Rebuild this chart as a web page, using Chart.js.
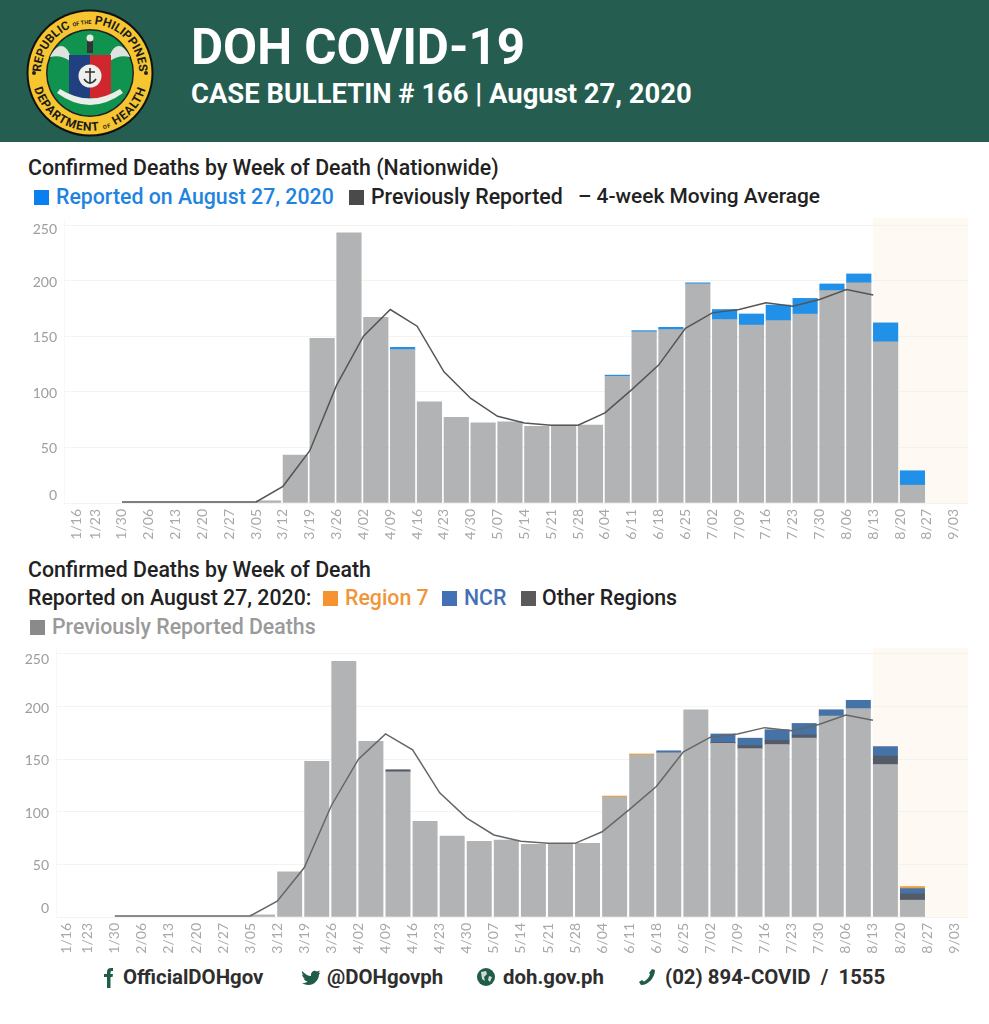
<!DOCTYPE html>
<html><head><meta charset="utf-8">
<script src="https://cdn.jsdelivr.net/npm/chart.js@4"></script>
<style>
html,body{margin:0;padding:0;background:#fff;width:989px;height:1024px;overflow:hidden;font-family:Roboto,sans-serif}
#hdr{position:absolute;left:0;top:0;width:989px;height:142px;background:#255d50}
.t{position:absolute;white-space:nowrap;line-height:1;font-family:Roboto,sans-serif}
.s{position:absolute;width:15px;height:15px}
canvas{position:absolute}
.lg{font-size:21.3px;font-weight:500;color:#222}
.ft{font-size:20.4px;font-weight:700;color:#2e2e2e;top:967px}
</style></head><body>
<div id="hdr"></div>
<svg style="position:absolute;left:20px;top:5px" width="140" height="135" viewBox="0 0 140 135">
<defs>
<path id="arcTop" d="M 23.96 84.76 A 49 49 0 1 1 116.04 84.76"/>
<path id="arcBot" d="M 13.3 80 A 58 58 0 0 0 126.7 80"/>
</defs>
<circle cx="70" cy="68" r="63.5" fill="#111"/>
<circle cx="70" cy="68" r="61.5" fill="#f6c530"/>
<circle cx="70" cy="68" r="44" fill="#222"/>
<circle cx="70" cy="68" r="42.5" fill="#10934f"/>
<text font-family="Roboto" font-weight="700" font-size="12" fill="#1a1a1a"><textPath href="#arcTop" startOffset="50%" text-anchor="middle">REPUBLIC <tspan font-size="5.5">OF THE</tspan> PHILIPPINES</textPath></text>
<text font-family="Roboto" font-weight="700" font-size="12" fill="#1a1a1a" letter-spacing="0.8"><textPath href="#arcBot" startOffset="50%" text-anchor="middle">DEPARTMENT <tspan font-size="5.5">OF</tspan> HEALTH</textPath></text>
<circle cx="14" cy="68" r="2" fill="#222"/><circle cx="126" cy="68" r="2" fill="#222"/>
<path d="M50 50 C44 36 36 40 30 52 C38 50 44 52 50 56 Z" fill="#dfe3df"/>
<path d="M90 50 C96 36 104 40 110 52 C102 50 96 52 90 56 Z" fill="#dfe3df"/>
<rect x="67" y="33" width="6" height="15" fill="#333"/><circle cx="70" cy="33" r="3.5" fill="#e8e8e0"/>
<path d="M49 50 H70 V93 H55 Q49 93 49 87 Z" fill="#20407f"/>
<path d="M91 50 H70 V93 H85 Q91 93 91 87 Z" fill="#d0272f"/>
<circle cx="70" cy="71" r="11.5" fill="#eef0ec"/>
<path d="M70 63 V79 M65 67 H75 M64 74 Q70 82 76 74" stroke="#333" stroke-width="1.6" fill="none"/>
<path d="M37 88 Q70 112 103 88 L100 84 Q70 103 40 84 Z" fill="#e9efe8"/>
</svg>
<div class="t" style="left:191px;top:23px;font-size:49.4px;font-weight:700;color:#fff">DOH COVID-19</div>
<div class="t" style="left:191px;top:81px;font-size:27.4px;font-weight:700;color:#fff">CASE BULLETIN # 166 | August 27, 2020</div>

<div class="t lg" style="left:28px;top:157px">Confirmed Deaths by Week of Death (Nationwide)</div>
<div class="s" style="left:34px;top:190px;background:#0a7ff0"></div>
<div class="t lg" style="left:56px;top:186px;color:#1f84e0">Reported on August 27, 2020</div>
<div class="s" style="left:349px;top:190px;background:#4a4a4a"></div>
<div class="t lg" style="left:371px;top:186px">Previously Reported</div>
<div class="t lg" style="left:578px;top:186px;font-size:20.9px">– 4-week Moving Average</div>

<div class="t lg" style="left:28px;top:559px">Confirmed Deaths by Week of Death</div>
<div class="t lg" style="left:28px;top:587px">Reported on August 27, 2020:</div>
<div class="s" style="left:323px;top:591px;background:#f59331"></div>
<div class="t lg" style="left:345px;top:587px;color:#f0963a">Region 7</div>
<div class="s" style="left:442px;top:591px;background:#4470b6"></div>
<div class="t lg" style="left:464px;top:587px;color:#4470b6">NCR</div>
<div class="s" style="left:521px;top:591px;background:#5a5a5a"></div>
<div class="t lg" style="left:542px;top:587px">Other Regions</div>
<div class="s" style="left:30px;top:620px;background:#8a8a8a"></div>
<div class="t lg" style="left:52px;top:616px;color:#9a9a9a">Previously Reported Deaths</div>

<canvas id="c1" style="left:0;top:210px" width="989" height="340"></canvas>
<canvas id="c2" style="left:0;top:640px" width="989" height="320"></canvas>

<svg style="position:absolute;left:100px;top:966px" width="18" height="24" viewBox="0 0 18 24"><path d="M7 22 V11 H4 V8 H7 V6 Q7 2 11 2 H13 V5 H11.5 Q10.5 5 10.5 6.5 V8 H13 L12.5 11 H10.5 V22 Z" fill="#1f5c4a"/></svg>
<div class="t ft" style="left:123px">OfficialDOHgov</div>
<svg style="position:absolute;left:301px;top:968px" width="20" height="18" viewBox="0 0 20 18"><path d="M1 3 C4 6 7 8 10 8 C9.5 4 13 1.5 16 3.5 L19 2.5 L17.5 5 L19.5 4.5 L18 6.5 C18 12 13 17 7.5 17 C5 17 3 16.3 1 15 C3 15.2 5 14.6 6.5 13.5 C4.5 13.3 3.2 12.2 2.6 10.6 L4.4 10.5 C2.4 9.9 1.2 8.2 1.2 6.2 L3 6.8 C1.2 5.6 0.6 5 1 3 Z" fill="#1f5c4a"/></svg>
<div class="t ft" style="left:327px">@DOHgovph</div>
<svg style="position:absolute;left:477px;top:968px" width="18" height="18" viewBox="0 0 18 18"><circle cx="9" cy="9" r="9" fill="#1f5c4a"/><path d="M4 4 L9 3 L10 6 L7 9 L8 13 L5 11 Z M12 8 L15 9 L13 14 L11 12 Z" fill="#cfdcd6"/></svg>
<div class="t ft" style="left:503px">doh.gov.ph</div>
<svg style="position:absolute;left:638px;top:968px" width="18" height="18" viewBox="0 0 18 18"><path d="M14 1 L17 2 C17 9 11 17 3 17 L1 14 L4 12 L6 13.5 C9 12 11.5 9 12 6 L11 5 Z" fill="#1f5c4a"/></svg>
<div class="t ft" style="left:665px;white-space:pre">(02) 894-COVID  /  1555</div>

<script>
const weekLabels = ['1/16','1/23','1/30','2/06','2/13','2/20','2/27','3/05','3/12','3/19','3/26','4/02','4/09','4/16','4/23','4/30','5/07','5/14','5/21','5/28','6/04','6/11','6/18','6/25','7/02','7/09','7/16','7/23','7/30','8/06','8/13','8/20','8/27','9/03'];
const previouslyReported = [null,null,null,null,null,null,null,2,43,148,243,167,138,91,77,72,73,69,70,70,114,154,156,197,165,160,164,170,191,198,145,16,null,null];
const reportedToday = [null,null,null,null,null,null,null,null,null,null,null,null,2,null,null,null,null,null,null,null,1,1,2,1,9,10,14,14,6,8,17,13,null,null];
const otherRegions = [null,null,null,null,null,null,null,null,null,null,null,null,2,null,null,null,null,null,null,null,null,null,null,null,1,3,4,3,null,null,8,6,null,null];
const ncr = [null,null,null,null,null,null,null,null,null,null,null,null,null,null,null,null,null,null,null,null,null,null,2,null,8,7,10,11,6,8,9,5,null,null];
const region7 = [null,null,null,null,null,null,null,null,null,null,null,null,null,null,null,null,null,null,null,null,1,1,null,null,null,null,null,null,null,null,null,2,null,null];
const movingAverage = [null,null,1,1,1,1,1,1,15,47,106,150,174,159,118,94,78,72,70,70,81,102,124,157,171,174,180,177,183,192,187,null,null,null];
const yTicks = [0,50,100,150,200,250];
const forecastStart = 30;

const barPts = a => a.map((v,i)=>({x:i+0.46,y:v}));
const linePts = a => a.map((v,i)=>({x:i,y:v}));

const nudge = (cfg) => ({
  id:'nudge',
  beforeDraw(chart){
    const a = chart.chartArea, xs = chart.scales.x, c = chart.ctx;
    c.save();
    c.fillStyle = '#fefaf3';
    const l = xs.getPixelForValue(forecastStart);
    c.fillRect(l, a.top, a.right-l, a.bottom-a.top);
    c.strokeStyle = cfg.baseColor;
    c.lineWidth = 1;
    c.setLineDash(cfg.baseDash);
    c.beginPath();
    c.moveTo(a.left, a.bottom+0.5);
    c.lineTo(a.right, a.bottom+0.5);
    c.stroke();
    c.restore();
    chart.scales.y.getLabelItems(a).forEach(it=>{
      if(it._n) return; it._n = true;
      it.options.translation[1] += (cfg.yShift[it.label] ?? 1.5);
    });
    const first = xs.getLabelItems(a)[0];
    if(first && !first._n){ first._n = true; first.options.translation[0] += cfg.firstX; }
  }
});

function make(id, bars, cfg){
  return new Chart(document.getElementById(id), {
    type:'bar',
    data:{datasets:[
      ...bars.map(b=>({type:'bar',label:b.label,data:barPts(b.data),backgroundColor:b.color,barThickness:cfg.barW,stack:'s',order:2,borderWidth:0})),
      {type:'line',label:'4-week Moving Average',data:linePts(movingAverage),borderColor:cfg.lineColor,borderWidth:1.5,pointRadius:0,tension:0,stack:'avg',order:1,spanGaps:false}
    ]},
    options:{
      responsive:false,animation:false,
      layout:{padding:{top:cfg.top,right:21,left:0,bottom:0}},
      plugins:{legend:{display:false},tooltip:{enabled:false}},
      scales:{
        x:{type:'linear',min:cfg.xMin,max:cfg.xMax,offset:false,
          grid:{display:false,drawTicks:false,tickLength:0},
          border:{display:false},
          afterBuildTicks:s=>{s.ticks=weekLabels.map((_,i)=>({value:i}));},
          afterFit:s=>{s.height=cfg.xH;},
          ticks:{autoSkip:false,minRotation:90,maxRotation:90,padding:cfg.xPad,color:'#a8a8a8',font:{family:'Lato',size:14},
            callback:v=>weekLabels[v]}
        },
        y:{min:0,max:cfg.yMax,stacked:true,
          afterBuildTicks:s=>{s.ticks=yTicks.map(v=>({value:v}));},
          afterFit:s=>{s.width=cfg.yW;s.paddingTop=0;s.paddingBottom=0;},
          grid:{color:'#f4f3ef',drawTicks:false,lineWidth:1},
          border:{display:true,color:'#f9f8f1'},
          ticks:{padding:7,color:'#9d9d9d',font:{family:'Lato',size:14}}
        }
      }
    },
    plugins:[nudge(cfg)]
  });
}

make('c1',[
  {label:'Previously Reported',data:previouslyReported,color:'#b1b3b4'},
  {label:'Reported on August 27, 2020',data:reportedToday,color:'#2190e8'}
],{top:8,xMin:-0.16,xMax:33.53,yMax:256.3,yW:64,xH:47,barW:24.5,lineColor:'#555',baseColor:'#cfcfcf',baseDash:[2,2],xPad:6,yShift:{'0':-8,'250':4},firstX:7.7});

make('c2',[
  {label:'Previously Reported Deaths',data:previouslyReported,color:'#b1b3b4'},
  {label:'Other Regions',data:otherRegions,color:'#545b66'},
  {label:'NCR',data:ncr,color:'#4573a7'},
  {label:'Region 7',data:region7,color:'#f0a040'}
],{top:8,xMin:-0.17,xMax:33.51,yMax:255.7,yW:56,xH:43,barW:24.3,lineColor:'#666',baseColor:'#eeeeee',baseDash:[],xPad:6,yShift:{'0':-8.7,'250':5.7},firstX:6});
</script>
</body></html>
